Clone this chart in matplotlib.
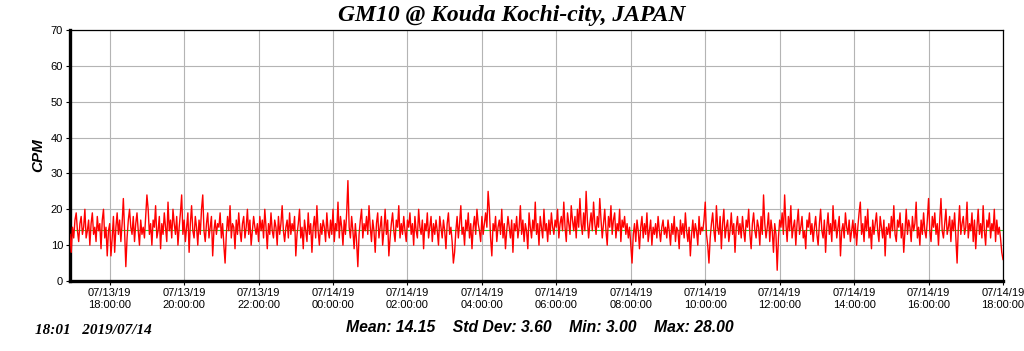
import numpy as np
import matplotlib
matplotlib.use("Agg")
import matplotlib.pyplot as plt
import matplotlib.dates as mdates
import datetime

# CPM readings, 2 minute steps, one row per hour starting 07/13 16:56
cpm_rows = [
    [13, 8, 15, 12, 17, 19, 14, 11, 16, 18, 13, 15, 20, 12, 14, 17, 10, 16, 19, 13, 15, 11, 18, 14, 16, 9, 17, 20, 12, 15],
    [7, 14, 16, 7, 12, 18, 8, 15, 19, 13, 17, 11, 16, 23, 14, 4, 12, 17, 20, 15, 13, 18, 11, 16, 19, 14, 10, 17, 13, 15],
    [12, 18, 24, 20, 13, 16, 10, 17, 15, 21, 12, 14, 18, 9, 16, 13, 19, 15, 11, 22, 14, 17, 12, 20, 16, 13, 18, 10, 15, 19],
    [24, 13, 17, 11, 15, 19, 8, 16, 21, 14, 12, 18, 15, 10, 17, 13, 20, 24, 14, 11, 16, 19, 12, 15, 18, 7, 14, 17, 13, 16],
    [15, 19, 12, 16, 10, 5, 13, 18, 14, 21, 12, 16, 15, 9, 17, 13, 19, 14, 11, 16, 18, 12, 15, 20, 13, 17, 10, 14, 18, 15],
    [13, 16, 11, 18, 14, 17, 12, 20, 15, 9, 16, 13, 19, 14, 12, 17, 15, 10, 18, 13, 16, 21, 14, 11, 15, 17, 12, 19, 13, 16],
    [14, 18, 7, 13, 16, 20, 12, 15, 9, 17, 14, 11, 19, 13, 16, 8, 15, 18, 12, 21, 14, 10, 16, 13, 17, 15, 11, 19, 14, 12],
    [17, 13, 20, 11, 16, 14, 22, 12, 18, 15, 10, 17, 13, 19, 28, 15, 12, 18, 14, 9, 16, 11, 4, 13, 17, 20, 12, 16, 14, 18],
    [13, 21, 15, 11, 17, 14, 8, 16, 19, 12, 15, 18, 10, 14, 20, 13, 17, 7, 12, 16, 19, 14, 11, 17, 15, 21, 12, 16, 13, 18],
    [14, 11, 17, 15, 19, 13, 16, 10, 18, 14, 12, 20, 15, 13, 17, 9, 16, 14, 19, 12, 15, 18, 11, 16, 13, 17, 14, 10, 18, 15],
    [12, 17, 14, 9, 16, 19, 13, 15, 11, 5, 8, 14, 18, 12, 16, 21, 13, 15, 10, 17, 14, 19, 12, 16, 9, 15, 18, 13, 20, 16],
    [14, 11, 18, 13, 16, 19, 15, 25, 20, 12, 7, 16, 14, 18, 11, 15, 17, 13, 20, 12, 16, 9, 14, 18, 15, 12, 17, 8, 16, 14],
    [18, 12, 15, 21, 13, 17, 11, 16, 14, 9, 19, 15, 12, 17, 14, 22, 13, 16, 10, 18, 15, 12, 20, 14, 16, 11, 17, 13, 19, 15],
    [13, 17, 15, 20, 12, 16, 18, 14, 22, 15, 11, 19, 16, 13, 21, 17, 14, 18, 12, 20, 15, 23, 16, 13, 19, 14, 25, 17, 12, 16],
    [19, 14, 22, 16, 13, 18, 15, 23, 17, 12, 16, 20, 14, 10, 18, 15, 21, 13, 17, 19, 12, 16, 14, 20, 11, 17, 15, 18, 13, 16],
    [12, 15, 10, 5, 13, 16, 11, 17, 14, 9, 15, 18, 12, 16, 13, 19, 11, 14, 17, 10, 15, 13, 16, 12, 18, 14, 11, 15, 17, 13],
    [15, 12, 17, 14, 10, 16, 13, 18, 11, 15, 14, 9, 17, 13, 16, 12, 19, 14, 11, 15, 7, 13, 17, 12, 16, 14, 10, 18, 13, 15],
    [14, 17, 22, 13, 10, 5, 12, 16, 19, 14, 11, 21, 15, 13, 18, 9, 16, 20, 12, 15, 17, 11, 14, 19, 13, 16, 8, 15, 18, 13],
    [16, 12, 18, 14, 11, 17, 15, 20, 13, 9, 16, 19, 14, 12, 17, 15, 10, 18, 13, 24, 16, 12, 15, 19, 11, 17, 14, 8, 16, 13],
    [3, 12, 17, 15, 19, 13, 24, 16, 11, 18, 14, 21, 12, 15, 17, 10, 16, 20, 13, 15, 18, 12, 14, 9, 17, 15, 19, 13, 16, 11],
    [15, 18, 13, 10, 16, 20, 14, 12, 17, 8, 15, 19, 13, 16, 11, 21, 14, 17, 12, 15, 18, 7, 14, 16, 12, 19, 15, 13, 17, 11],
    [14, 17, 12, 16, 10, 15, 19, 22, 13, 16, 11, 18, 14, 20, 12, 15, 9, 17, 13, 16, 19, 14, 11, 18, 15, 12, 17, 7, 15, 13],
    [16, 12, 18, 14, 21, 13, 11, 17, 15, 19, 12, 16, 8, 14, 20, 13, 17, 15, 11, 18, 14, 16, 22, 12, 15, 10, 17, 13, 19, 14],
    [12, 17, 23, 14, 11, 18, 15, 19, 13, 16, 10, 17, 23, 14, 12, 16, 20, 13, 15, 18, 11, 17, 14, 19, 12, 5, 15, 21, 13, 16],
    [18, 13, 15, 22, 12, 16, 14, 19, 11, 17, 9, 15, 20, 13, 16, 12, 21, 14, 10, 17, 15, 19, 12, 16, 14, 20, 11, 17, 13, 15],
    [12, 8, 6],
]
cpm = [v for row in cpm_rows for v in row]

start_time = datetime.datetime(2019, 7, 13, 16, 56)
end_time = datetime.datetime(2019, 7, 14, 18, 0)
times = [start_time + datetime.timedelta(minutes=2 * i) for i in range(len(cpm))]

mean_cpm = 14.15
std_cpm = 3.60
min_cpm = 3.00
max_cpm = 28.00

title = "GM10 @ Kouda Kochi-city, JAPAN"
stamp = "18:01   2019/07/14"

fig = plt.figure(figsize=(10.24, 3.51), dpi=100)
ax = fig.add_axes([70 / 1024, 70 / 351, 933 / 1024, 251 / 351])

ax.plot(times, cpm, color="#ff0000", linewidth=1.0, zorder=3)
ax.axhline(mean_cpm, color="#33cc33", linewidth=0.8, zorder=2)

ax.set_ylim(0, 70)
ax.set_yticks(range(0, 71, 10))
ax.set_xlim(start_time, end_time)
ax.xaxis.set_major_locator(mdates.HourLocator(byhour=range(0, 24, 2)))
ax.xaxis.set_major_formatter(mdates.DateFormatter("%m/%d/%y\n%H:%M:%S"))

ax.grid(True, color="#b4b4b4", linewidth=0.8, zorder=1)
ax.tick_params(axis="both", labelsize=8, length=3, width=0.8, pad=2)
for lbl in ax.get_xticklabels() + ax.get_yticklabels():
    lbl.set_fontfamily("Liberation Sans")

ax.spines["left"].set_linewidth(2.4)
ax.spines["bottom"].set_linewidth(2.4)
ax.spines["top"].set_linewidth(0.9)
ax.spines["right"].set_linewidth(0.9)

ax.set_ylabel("CPM", fontsize=11, fontweight="bold", fontstyle="italic",
              family="Liberation Sans", labelpad=4)

fig.text(0.5, 0.985, title, ha="center", va="top", fontsize=17,
         fontweight="bold", fontstyle="italic", family="Liberation Serif")
fig.text(0.527, 0.068, "Mean: %.2f    Std Dev: %.2f    Min: %.2f    Max: %.2f"
         % (mean_cpm, std_cpm, min_cpm, max_cpm),
         ha="center", va="center", fontsize=11.3, fontweight="bold",
         fontstyle="italic", family="Liberation Sans")
fig.text(0.034, 0.057, stamp, ha="left", va="center", fontsize=11,
         fontweight="bold", fontstyle="italic", family="Liberation Serif")

fig.savefig("out.png", dpi=100)
